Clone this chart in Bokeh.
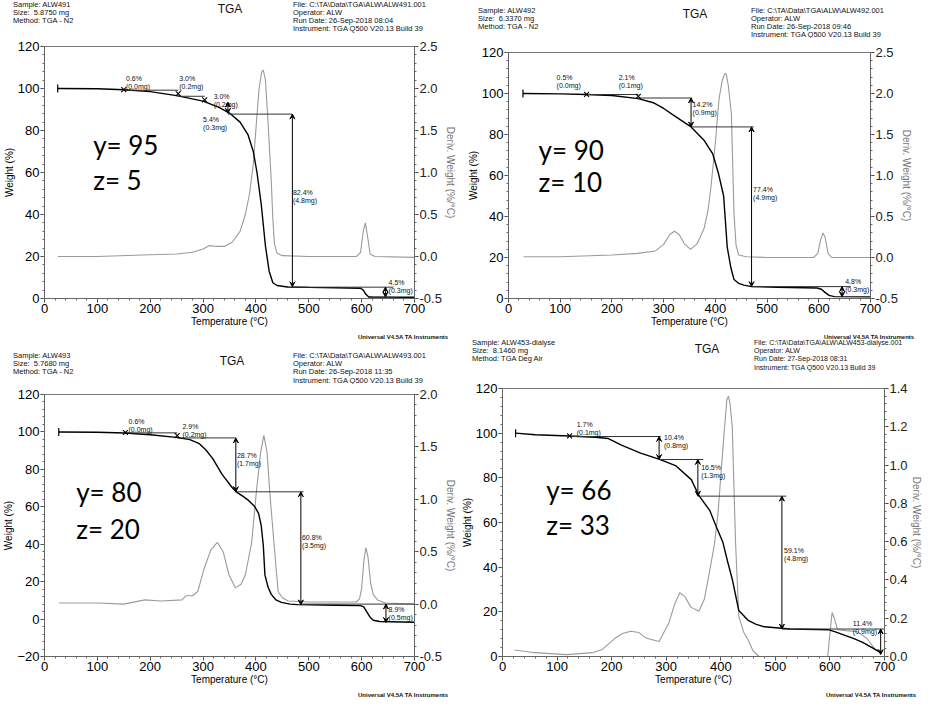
import math
from bokeh.plotting import figure
from bokeh.models import (Range1d, LinearAxis, SingleIntervalTicker, NumeralTickFormatter,
                          Arrow, VeeHead, ColumnDataSource, Div)
from bokeh.layouts import column, row
from bokeh.embed import file_html
from bokeh.resources import INLINE
from bokeh.core.properties import value

FONT = "Liberation Sans"

# ---------------- Panel 1: ALW491 ----------------
p1_wT = [25, 100, 150, 200, 250, 300, 330, 350, 370, 385, 395, 402, 410, 418, 425, 432, 440, 460, 500, 550, 598, 603, 608, 613, 620, 700]
p1_w = [100, 99.9, 99.4, 98.5, 96.6, 94.0, 91, 88.3, 84, 78, 70, 60, 45, 25, 13, 7.5, 6.2, 5.5, 5.3, 5.1, 4.9, 4.0, 2.0, 0.8, 0.7, 0.6]
p1_dT = [25, 100, 200, 250, 280, 300, 312, 325, 340, 355, 370, 380, 388, 395, 401, 406, 411, 414, 418, 422, 426, 429, 432, 435, 440, 450, 500, 590, 598, 603, 607, 611, 616, 625, 700]
p1_d = [0, 0, 0.02, 0.03, 0.05, 0.09, 0.13, 0.12, 0.12, 0.17, 0.3, 0.5, 0.75, 1.1, 1.6, 2.0, 2.2, 2.22, 2.1, 1.7, 1.25, 0.9, 0.45, 0.15, 0.04, 0.01, 0.0, 0.0, 0.05, 0.3, 0.4, 0.25, 0.03, 0.0, -0.01]
p1_marks_T = [150, 253, 303]
p1_marks_W = [99.5, 97.6, 94.6]
p1_hl_x0 = [150, 253, 347, 469, 612]
p1_hl_x1 = [253, 303, 469, 660, 660]
p1_hl_y = [99.2, 96.3, 87.8, 5.4, 0.6]
p1_ar_T = [347, 469, 645]
p1_ar_y0 = [93.5, 87.8, 5.4]
p1_ar_y1 = [88.2, 5.6, 0.7]
p1_lab_T = [154, 255, 320, 300, 470, 651]
p1_lab_W = [106.6, 106.6, 97.9, 86.7, 52.1, 9.5]
p1_lab_pct = ["0.6%", "3.0%", "3.0%", "5.4%", "82.4%", "4.5%"]
p1_lab_mg = ["(0.0mg)", "(0.2mg)", "(0.2mg)", "(0.3mg)", "(4.8mg)", "(0.3mg)"]
p1_big = ["y= 95", "z= 5"]
p1_big_T = [92, 92]
p1_big_W = [73, 56.4]
p1_head_left = ["Sample: ALW491", "Size:&nbsp; 5.8750 mg", "Method: TGA - N2"]
p1_head_right = ["File: C:\\TA\\Data\\TGA\\ALW\\ALW491.001", "Operator: ALW",
                 "Run Date: 26-Sep-2018 08:04", "Instrument: TGA Q500 V20.13 Build 39"]

# ---------------- Panel 2: ALW492 ----------------
p2_wT = [28, 100, 151, 200, 251, 280, 300, 326, 353, 378, 395, 406, 416, 423, 430, 436, 445, 455, 470, 520, 597, 605, 612, 620, 630, 700]
p2_w = [100, 99.8, 99.5, 99, 97.5, 95.5, 92.7, 88.2, 83.7, 77.2, 70.5, 61, 50, 25, 15, 9.3, 7.4, 6.5, 5.8, 5.5, 5.1, 4.5, 3, 1.5, 0.9, 0.8]
p2_dT = [29, 100, 200, 250, 284, 300, 312, 321, 330, 340, 352, 365, 378, 386, 392, 400, 407, 413, 418, 421, 425, 431, 436, 440, 445, 460, 500, 590, 598, 603, 608, 612, 618, 625, 700]
p2_d = [0.01, 0.01, 0.03, 0.05, 0.08, 0.16, 0.28, 0.32, 0.28, 0.17, 0.10, 0.17, 0.35, 0.58, 0.89, 1.4, 1.93, 2.15, 2.24, 2.24, 2.1, 1.75, 0.54, 0.15, 0.03, 0.01, 0.0, 0.0, 0.05, 0.2, 0.3, 0.25, 0.05, 0.0, 0.0]
p2_marks_T = [151, 251]
p2_marks_W = [99.6, 98.6]
p2_hl_x0 = [151, 251, 353, 470]
p2_hl_x1 = [251, 355, 474, 662]
p2_hl_y = [99.5, 97.8, 83.7, 5.8]
p2_ar_T = [353, 470, 645]
p2_ar_y0 = [97.8, 83.7, 5.8]
p2_ar_y1 = [83.7, 5.8, 0.8]
p2_lab_T = [93, 213, 356, 473, 651]
p2_lab_W = [109.7, 109.7, 96.5, 54.8, 10]
p2_lab_pct = ["0.5%", "2.1%", "14.2%", "77.4%", "4.8%"]
p2_lab_mg = ["(0.0mg)", "(0.1mg)", "(0.9mg)", "(4.9mg)", "(0.3mg)"]
p2_big = ["y= 90", "z= 10"]
p2_big_T = [58, 58]
p2_big_W = [72.6, 56.9]
p2_head_left = ["Sample: ALW492", "Size:&nbsp; 6.3370 mg", "Method: TGA - N2"]
p2_head_right = ["File: C:\\TA\\Data\\TGA\\ALW\\ALW492.001", "Operator: ALW",
                 "Run Date: 26-Sep-2018 09:46", "Instrument: TGA Q500 V20.13 Build 39"]

# ---------------- Panel 3: ALW493 ----------------
p3_wT = [27, 100, 152, 200, 249, 275, 293, 305, 318, 336, 355, 362, 375, 386, 398, 405, 410, 414, 417, 423, 429, 438, 448, 465, 479, 550, 598, 604, 610, 616, 622, 634, 700]
p3_w = [100, 99.8, 99.4, 98.5, 97.1, 95.9, 93.7, 90.5, 85.9, 77.3, 70.3, 68.1, 65.7, 63.4, 60, 56.5, 50, 39.2, 23.6, 17, 13.2, 10.2, 8.9, 8.0, 7.7, 7.4, 7.2, 6.5, 3.7, 1.0, -0.6, -1.3, -1.7]
p3_dT = [28, 100, 150, 190, 220, 260, 268, 280, 290, 302, 315, 327, 338, 349, 361, 372, 380, 392, 401, 409, 415, 421, 426, 434, 442, 450, 461, 500, 590, 596, 600, 604, 608, 612, 617, 622, 630, 645, 700]
p3_d = [0.01, 0.01, 0.0, 0.04, 0.03, 0.04, 0.08, 0.08, 0.12, 0.34, 0.52, 0.59, 0.5, 0.28, 0.155, 0.19, 0.28, 0.59, 1.08, 1.45, 1.61, 1.45, 1.08, 0.59, 0.12, 0.06, 0.03, 0.02, 0.02, 0.05, 0.15, 0.4, 0.54, 0.45, 0.2, 0.09, 0.04, 0.01, 0.0]
p3_marks_T = [153, 251]
p3_marks_W = [99.7, 98.0]
p3_hl_x0 = [153, 251, 362, 485]
p3_hl_x1 = [251, 362, 490, 700]
p3_hl_y = [99.5, 96.8, 68.0, 8.0]
p3_ar_T = [362, 485, 646]
p3_ar_y0 = [96.8, 68.0, 8.0]
p3_ar_y1 = [68.1, 7.6, -1.8]
p3_lab_T = [159, 261, 364, 487, 651]
p3_lab_W = [107.5, 104.9, 89.4, 45.2, 7.2]
p3_lab_pct = ["0.6%", "2.9%", "28.7%", "60.8%", "8.9%"]
p3_lab_mg = ["(0.0mg)", "(0.2mg)", "(1.7mg)", "(3.5mg)", "(0.5mg)"]
p3_big = ["y= 80", "z= 20"]
p3_big_T = [60, 60]
p3_big_W = [67.8, 48.2]
p3_head_left = ["Sample: ALW493", "Size:&nbsp; 5.7680 mg", "Method: TGA - N2"]
p3_head_right = ["File: C:\\TA\\Data\\TGA\\ALW\\ALW493.001", "Operator: ALW",
                 "Run Date: 26-Sep-2018 11:35", "Instrument: TGA Q500 V20.13 Build 39"]

# ---------------- Panel 4: ALW453-dialyse ----------------
p4_wT = [24, 60, 123, 170, 194, 218, 253, 288, 317, 346, 360, 380, 392, 404, 412, 421, 433, 450, 465, 480, 527, 597, 610, 625, 643, 660, 678, 695]
p4_w = [100, 99.3, 98.7, 98.2, 97.6, 94.6, 91.1, 88.3, 85.5, 79.2, 72, 65.3, 58, 51, 43, 34.6, 20.6, 16.2, 14.4, 13.3, 12.3, 12.0, 11.0, 9.7, 8.1, 6.3, 3.9, 1.4]
p4_dT = [22, 59, 118, 165, 183, 206, 220, 235, 250, 264, 287, 305, 315, 325, 335, 345, 360, 370, 380, 388, 395, 401, 407, 411, 414, 417, 421, 427, 433, 442, 450, 459, 470, 500, 596, 600, 604, 608, 614, 630, 650, 668, 682, 695]
p4_d = [0.034, 0.02, 0.01, 0.02, 0.037, 0.095, 0.12, 0.132, 0.125, 0.095, 0.078, 0.176, 0.27, 0.334, 0.31, 0.258, 0.236, 0.3, 0.454, 0.58, 0.75, 0.98, 1.2, 1.34, 1.36, 1.32, 1.2, 0.6, 0.21, 0.127, 0.087, 0.03, 0.0, 0.0, 0.0, 0.12, 0.23, 0.2, 0.14, 0.135, 0.13, 0.094, 0.04, 0.02]
p4_marks_T = [123]
p4_marks_W = [98.8]
p4_hl_x0 = [123, 287, 358, 512]
p4_hl_x1 = [290, 368, 520, 700]
p4_hl_y = [98.5, 88.2, 71.8, 12.3]
p4_ar_T = [287, 358, 512, 693]
p4_ar_y0 = [98.5, 88.2, 71.8, 12.3]
p4_ar_y1 = [88.2, 71.8, 12.3, 0.9]
p4_lab_T = [136, 296, 364, 516, 642]
p4_lab_W = [105.3, 99.5, 86.2, 49.2, 16.2]
p4_lab_pct = ["1.7%", "10.4%", "16.5%", "59.1%", "11.4%"]
p4_lab_mg = ["(0.1mg)", "(0.8mg)", "(1.3mg)", "(4.8mg)", "(0.9mg)"]
p4_big = ["y= 66", "z= 33"]
p4_big_T = [80, 80]
p4_big_W = [74.4, 59]
p4_head_left = ["Sample: ALW453-dialyse", "Size:&nbsp; 8.1460 mg", "Method: TGA Deg Air"]
p4_head_right = ["File: C:\\TA\\Data\\TGA\\ALW\\ALW453-dialyse.001", "Operator: ALW",
                 "Run Date: 27-Sep-2018 08:31", "Instrument: TGA Q500 V20.13 Build 39"]

FOOTER = "Universal V4.5A TA Instruments"

CSS_FONT = 'font-family:"Liberation Sans",Arial,sans-serif;'


def header(d, w, h, lx, ly, tx, ty, rx, ry, fs=7.5, rfs=7.5):
    base = "position:absolute;white-space:nowrap;" + CSS_FONT + "color:#111;"
    html = (
        f"<div style='position:relative;width:{w}px;height:{h}px;overflow:hidden;'>"
        f"<div style='{base}left:{lx}px;top:{ly}px;font-size:{fs}px;line-height:8.2px;'>"
        + "<br>".join(d["head_left"]) + "</div>"
        f"<div style='{base}left:{tx - 14}px;top:{ty}px;width:28px;text-align:center;font-size:12px;line-height:13px;'>TGA</div>"
        f"<div style='{base}left:{rx}px;top:{ry}px;font-size:{rfs}px;line-height:8.2px;'>"
        + "<br>".join(d["head_right"]) + "</div></div>"
    )
    return Div(text=html, width=w, height=h, margin=0)


def footer(w, h, fx):
    html = (f"<div style='position:relative;width:{w}px;height:{h}px;overflow:hidden;'>"
            f"<div style='position:absolute;left:{fx}px;top:0px;white-space:nowrap;"
            + CSS_FONT + "font-size:6px;font-weight:bold;"
            f"line-height:7px;color:#111;'>{FOOTER}</div></div>")
    return Div(text=html, width=w, height=h, margin=0)


def build(d, box, yr, dr, dstep):
    w, h, bl, br, bt, bb = box
    ylo, yhi = yr
    p = figure(width=w, height=h, x_range=Range1d(0, 700), y_range=Range1d(ylo, yhi),
               min_border_left=bl, min_border_right=br, min_border_top=bt, min_border_bottom=bb,
               output_backend="svg", toolbar_location=None)
    p.extra_y_ranges = {"d": Range1d(dr[0], dr[1])}
    p.xgrid.visible = False
    p.ygrid.visible = False
    p.outline_line_color = "#777777"
    p.outline_line_width = 1

    def style_axis(ax, col="black", lab_col="black"):
        ax.axis_line_color = "#666666"
        ax.major_tick_line_color = "#444444"
        ax.minor_tick_line_color = "#666666"
        ax.major_tick_out = 4
        ax.major_tick_in = 0
        ax.minor_tick_out = 2
        ax.minor_tick_in = 0
        ax.major_label_standoff = 1
        ax.major_label_text_font = FONT
        ax.major_label_text_font_size = "13px"
        ax.major_label_text_color = col
        ax.axis_label_text_font = FONT
        ax.axis_label_text_font_size = "10px"
        ax.axis_label_text_font_style = "normal"
        ax.axis_label_text_color = lab_col
        ax.axis_label_standoff = 0

    xa = p.xaxis[0]
    xa.ticker = SingleIntervalTicker(interval=100, num_minor_ticks=5)
    xa.axis_label = "Temperature (°C)"
    style_axis(xa)
    ya = p.yaxis[0]
    ya.ticker = SingleIntervalTicker(interval=20, num_minor_ticks=5)
    ya.axis_label = "Weight (%)"
    style_axis(ya)
    ra = LinearAxis(y_range_name="d", ticker=SingleIntervalTicker(interval=dstep, num_minor_ticks=5),
                    formatter=NumeralTickFormatter(format="0.0"), axis_label="Deriv. Weight (%/°C)")
    style_axis(ra, col="#222222", lab_col="#777777")
    p.add_layout(ra, "right")

    # curves
    p.line(d["dT"], d["d"], y_range_name="d", line_color="#9a9a9a", line_width=1.1)
    p.line(d["wT"], d["w"], line_color="black", line_width=1.4)

    # step analysis annotations
    p.segment(x0=d["hl_x0"], y0=d["hl_y"], x1=d["hl_x1"], y1=d["hl_y"], line_color="#333333", line_width=1)
    p.scatter([d["wT"][0]], [d["w"][0]], marker="dash", angle=math.pi / 2, size=8,
              line_color="black", line_width=1.2)
    p.scatter(d["marks_T"], d["marks_W"], marker="x", size=7, line_color="black", line_width=1.1)
    src = ColumnDataSource(dict(x=d["ar_T"], y0=d["ar_y0"], y1=d["ar_y1"]))
    p.add_layout(Arrow(x_start="x", y_start="y0", x_end="x", y_end="y1", source=src,
                       start=VeeHead(size=5, line_color="black", fill_color="black", line_width=1),
                       end=VeeHead(size=5, line_color="black", fill_color="black", line_width=1),
                       line_color="black", line_width=1))
    p.text(d["lab_T"], d["lab_W"], text=d["lab_pct"], text_font=value(FONT), text_font_size="7px",
           text_baseline="top", text_align="left", text_color="#111111")
    p.text(d["lab_T"], d["lab_W"], text=d["lab_mg"], text_font=value(FONT), text_font_size="7px",
           text_baseline="top", text_align="left", text_color="#111111", y_offset=8)
    p.text(d["big_T"], d["big_W"], text=d["big"], text_font=value("Lato"), text_font_size="26px",
           text_baseline="alphabetic", text_align="left", text_color="black")
    return p


def pack(pre):
    g = globals()
    keys = ["wT", "w", "dT", "d", "marks_T", "marks_W", "hl_x0", "hl_x1", "hl_y", "ar_T", "ar_y0",
            "ar_y1", "lab_T", "lab_W", "lab_pct", "lab_mg", "big", "big_T", "big_W",
            "head_left", "head_right"]
    return {k: g[pre + "_" + k] for k in keys}


d1, d2, d3, d4 = pack("p1"), pack("p2"), pack("p3"), pack("p4")

# top row: 338 px tall  (header 38 + chart 292 + footer 8)
c1 = column(header(d1, 458, 38, 13, 0.5, 230, 3, 293, 0.5),
            build(d1, (458, 292, 43, 42, 8, 32), (0, 120), (-0.5, 2.5001), 0.5),
            footer(458, 8, 358), spacing=0)
c2 = column(header(d2, 466, 38, 20, 6.5, 237, 8, 293, 6.5),
            build(d2, (466, 292, 50, 54, 14, 32), (0, 120), (-0.5, 2.5001), 0.5),
            footer(466, 8, 366), spacing=0)
# bottom row: 358 px tall
c3 = column(header(d3, 458, 46, 13, 14, 232, 17, 293, 14),
            build(d3, (458, 304, 43, 40, 10, 32), (-20, 120), (-0.5, 2.0001), 0.5),
            footer(458, 8, 358), spacing=0)
c4 = column(header(d4, 466, 36, 14, 1, 249, 5, 296, 1, rfs=7),
            build(d4, (466, 314, 44, 36, 14, 32), (0, 120), (0.0, 1.4001), 0.2),
            footer(466, 8, 368), spacing=0)

layout = column(row(c1, c2, spacing=0), row(c3, c4, spacing=0), spacing=0)

with open("out.html", "w") as f:
    f.write(file_html(layout, INLINE))
